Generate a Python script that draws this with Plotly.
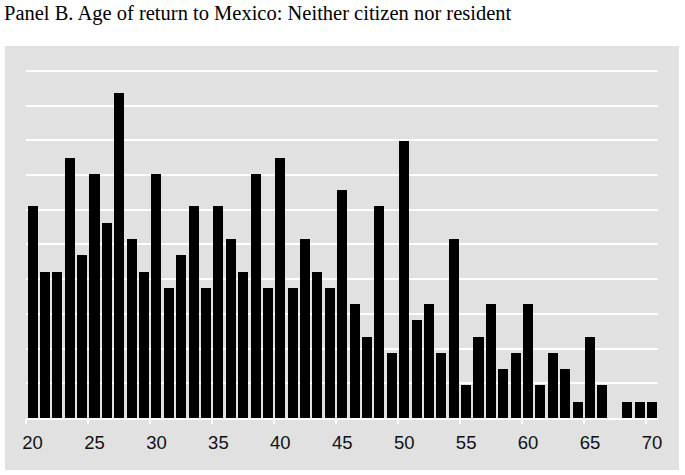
import plotly.graph_objects as go

# age at return and number of returnees
ages = [20, 21, 22, 23, 24, 25, 26, 27, 28, 29,
        30, 31, 32, 33, 34, 35, 36, 37, 38, 39,
        40, 41, 42, 43, 44, 45, 46, 47, 48, 49,
        50, 51, 52, 53, 54, 55, 56, 57, 58, 59,
        60, 61, 62, 63, 64, 65, 66, 67, 68, 69, 70]
counts = [13, 9, 9, 16, 10, 15, 12, 20, 11, 9,
          15, 8, 10, 13, 8, 13, 11, 9, 15, 8,
          16, 8, 11, 9, 8, 14, 7, 5, 13, 4,
          17, 6, 7, 4, 11, 2, 5, 7, 3, 4,
          7, 2, 4, 3, 1, 5, 2, 0, 1, 1, 1]
tick_labels = [20, 25, 30, 35, 40, 45, 50, 55, 60, 65, 70]
tick_marks = [19.5, 24.5, 29.5, 34.5, 39.5, 44.5, 49.5, 54.5, 59.5, 64.5, 69.5]

GREY = "#e1e1e1"
x_range = [19.47, 70.49]

fig = go.Figure()

fig.add_trace(go.Bar(
    x=ages,
    y=counts,
    width=0.81,
    marker=dict(color="black", line=dict(width=0)),
    hoverinfo="x+y",
    showlegend=False
))

# invisible trace carrying the offset tick marks
fig.add_trace(go.Scatter(
    x=[tick_marks[0]], y=[0], xaxis="x2", mode="markers",
    marker=dict(opacity=0), showlegend=False, hoverinfo="skip"
))

fig.update_layout(
    width=685,
    height=475,
    paper_bgcolor="white",
    plot_bgcolor=GREY,
    margin=dict(l=26, r=27, t=60, b=57),
    bargap=0,
    title=dict(
        text="Panel B. Age of return to Mexico: Neither citizen nor resident",
        font=dict(family="Liberation Serif, Times New Roman, serif", size=20.5, color="black"),
        x=4 / 685, xanchor="left", xref="container",
        y=1 - 13 / 475, yanchor="middle", yref="container"
    ),
    xaxis=dict(
        range=x_range,
        tickmode="array",
        tickvals=tick_labels,
        ticks="outside",
        ticklen=7,
        tickcolor="rgba(0,0,0,0)",
        tickfont=dict(family="Liberation Sans Narrow, Arial Narrow, Liberation Sans, sans-serif",
                      size=18.5, color="#111111"),
        showgrid=False,
        showline=True,
        linecolor="white",
        linewidth=2,
        zeroline=False
    ),
    xaxis2=dict(
        range=x_range,
        overlaying="x",
        side="bottom",
        tickmode="array",
        tickvals=tick_marks,
        ticks="outside",
        ticklen=5,
        tickwidth=1.5,
        tickcolor="white",
        showticklabels=False,
        showgrid=False,
        zeroline=False
    ),
    yaxis=dict(
        range=[0, 22.0],
        tickmode="linear",
        tick0=0,
        dtick=2.133,
        showticklabels=False,
        showgrid=True,
        gridcolor="white",
        gridwidth=1.5,
        zeroline=False
    ),
    shapes=[dict(
        type="rect", xref="paper", yref="paper", layer="below",
        x0=-0.0332, x1=1.0332, y0=-0.1453, y1=1.0391,
        fillcolor=GREY, line=dict(width=0)
    )]
)

# drop the browser's default 8px body margin so the figure sits at the page corner
fig.write_html("out.html", config={"displayModeBar": False},
               post_script="document.body.style.margin = '0px';")
